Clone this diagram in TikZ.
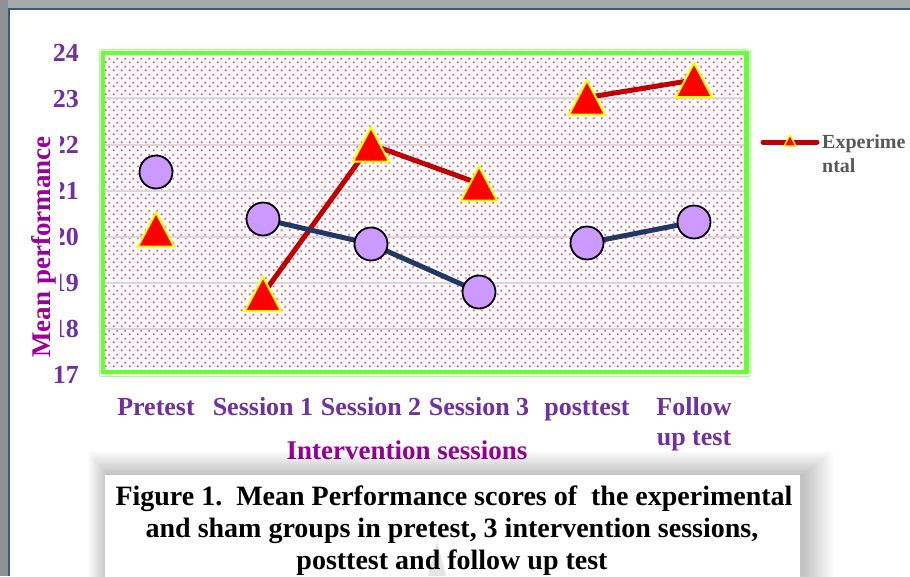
\documentclass[tikz,border=0pt]{standalone}
\usepackage{fontspec}
\setmainfont{Liberation Serif}
\usetikzlibrary{patterns.meta}
\definecolor{tickpurple}{HTML}{7030A0}
\definecolor{titlepurple}{HTML}{990099}
\definecolor{plotgreen}{HTML}{66FF33}
\definecolor{lightgreen}{HTML}{A6FF8C}
\definecolor{dotpink}{HTML}{FF4F85}
\definecolor{gridgray}{HTML}{D9D9D9}
\definecolor{expred}{HTML}{C00000}
\definecolor{markred}{HTML}{FF0000}
\definecolor{markyellow}{HTML}{FFFF00}
\definecolor{shamblue}{HTML}{1F3864}
\definecolor{shamfill}{HTML}{CC99FF}
\definecolor{legendgray}{HTML}{595959}
\definecolor{hdrgray}{HTML}{A6AAAD}
\definecolor{hdrblue}{HTML}{3A5A7C}
\tikzdeclarepattern{
  name=pinkdots,
  type=uncolored,
  bounding box={(0pt,0pt) and (8pt,8pt)},
  tile size={(8pt,8pt)},
  code={\pgfpathrectangle{\pgfpoint{1pt}{1pt}}{\pgfpoint{1.9pt}{1.9pt}}\pgfpathrectangle{\pgfpoint{5pt}{5pt}}{\pgfpoint{1.9pt}{1.9pt}}\pgfusepath{fill}}
}
\begin{document}
\begin{tikzpicture}[x=1pt,y=-1pt,
  ticklab/.style={anchor=base east, text=tickpurple, font=\fontsize{26}{31}\selectfont\bfseries, inner sep=0pt},
  catlab/.style={anchor=base, text=tickpurple, font=\fontsize{26}{31}\selectfont\bfseries, inner sep=0pt},
  axtitle/.style={text=titlepurple, font=\fontsize{27}{32}\selectfont\bfseries},
  expline/.style={draw=expred, line width=5pt},
  shamline/.style={draw=shamblue, line width=5pt},
  shammark/.style={circle, draw=black, line width=1.8pt, fill=shamfill, minimum size=33pt, inner sep=0pt},
  expmark/.pic={\filldraw[fill=markred, draw=markyellow, line width=2pt] (-18,17) -- (18,17) -- (0,-17) -- cycle;},
  legmark/.pic={\filldraw[fill=markred, draw=markyellow, line width=1.3pt] (-6,5) -- (6,5) -- (0,-6) -- cycle;},
  legtext/.style={anchor=base west, text=legendgray, font=\fontsize{20}{24}\selectfont\bfseries, inner sep=0pt},
  captext/.style={anchor=base, text=black, font=\fontsize{28}{33}\selectfont\bfseries, inner sep=0pt}
]
\useasboundingbox (0,0) rectangle (910,576);
\clip (0,0) rectangle (910,576);
\fill[white] (0,0) rectangle (910,576);
% window frame
\fill[hdrgray] (0,0) rectangle (910,7.5);
\fill[hdrblue] (0,7.5) rectangle (910,9.5);
\fill[hdrgray!85!black] (0,0) rectangle (8,576);
\fill[hdrblue] (8,9.5) rectangle (10,576);

% plot area
\fill[white] (103,53) rectangle (746.5,372);
\fill[pattern=pinkdots, pattern color=dotpink] (103,53) rectangle (746.5,372);
\foreach \yy in {98.4,144.5,190.6,236.7,282.8,328.9}
  \draw[gridgray, line width=2pt] (105,\yy) -- (744.5,\yy);
\draw[lightgreen, line width=1pt, rounded corners=2pt] (99.5,49.5) rectangle (750.5,376.5);
\draw[plotgreen, line width=4.5pt] (103,53) rectangle (746.5,372);

% y tick labels
\node[ticklab] (y24) at (79,61) {24};
\node[ticklab] (y23) at (79,107) {23};
\node[ticklab] (y22) at (79,153) {22};
\node[ticklab] (y21) at (79,199) {21};
\node[ticklab] (y20) at (79,245) {20};
\node[ticklab] (y19) at (79,291) {19};
\node[ticklab] (y18) at (79,337) {18};
\node[ticklab] (y17) at (79,383) {17};
\node[axtitle, rotate=90, fill=white, inner sep=4.5pt] (ytitle) at (43.6,247) {Mean performance};

% category labels
\node[catlab] (xpre) at (156,415) {Pretest};
\node[catlab] (xs1) at (263,415) {Session 1};
\node[catlab] (xs2) at (371,415) {Session 2};
\node[catlab] (xs3) at (479,415) {Session 3};
\node[catlab] (xpost) at (587,415) {posttest};
\node[catlab] (xfu1) at (694,415) {Follow};
\node[catlab] (xfu2) at (694,445) {up test};
\node[axtitle, anchor=base, inner sep=0pt] (xtitle) at (407,459) {Intervention sessions};

% data points
\coordinate (t1) at (156,229.5);
\coordinate (t2) at (263,294);
\coordinate (t3) at (371,144.5);
\coordinate (t4) at (479,183.5);
\coordinate (t5) at (587,97.5);
\coordinate (t6) at (694,80);
\coordinate (s1) at (156,172);
\coordinate (s2) at (263,219);
\coordinate (s3) at (371,244);
\coordinate (s4) at (479,292);
\coordinate (s5) at (587,243);
\coordinate (s6) at (694,222);

\draw[expline] (t2) -- (t3) -- (t4);
\draw[expline] (t5) -- (t6);
\draw[shamline] (s2) -- (s3) -- (s4);
\draw[shamline] (s5) -- (s6);
\foreach \t in {t1,t2,t3,t4,t5,t6} \pic at (\t) {expmark};
\node[shammark] (c1) at (s1) {};
\node[shammark] (c2) at (s2) {};
\node[shammark] (c3) at (s3) {};
\node[shammark] (c4) at (s4) {};
\node[shammark] (c5) at (s5) {};
\node[shammark] (c6) at (s6) {};

% legend
\coordinate (legA) at (763,142);
\coordinate (legB) at (817,142);
\coordinate (legM) at (790,141);
\draw[expline, line cap=round] (legA) -- (legB);
\pic at (legM) {legmark};
\node[legtext] (leg1) at (822,148) {Experime};
\node[legtext] (leg2) at (822,172) {ntal};

% caption box with soft shadow
\foreach \i in {1,...,20}
  \fill[black, opacity=0.013] ({105-\i*1.0+3},{475-\i*1.2}) rectangle ({800+\i*1.5+3},600);
\fill[white] (105,475) rectangle (800,600);
\fill[gray!40, opacity=0.5] (437,541) -- (446,576) -- (428,576) -- cycle;
\node[captext] (cap1) at (454,505) {Figure 1.\ \ Mean Performance scores of\ \ the experimental};
\node[captext] (cap2) at (452,537) {and sham groups in pretest, 3 intervention sessions,};
\node[captext] (cap3) at (452,569) {posttest and follow up test};
\end{tikzpicture}
\end{document}
